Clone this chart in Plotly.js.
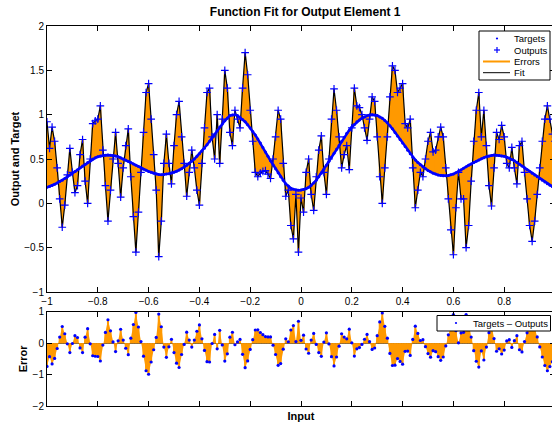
<!DOCTYPE html>
<html><head><meta charset="utf-8">
<script src="https://cdn.plot.ly/plotly-3.0.1.min.js"></script>
<style>html,body{margin:0;padding:0;overflow:hidden;background:#fff;width:552px;height:422px}</style>
</head><body><div id="chart" style="width:560px;height:422px"></div>
<script>
const inputs = [-1,-0.99,-0.98,-0.97,-0.96,-0.95,-0.94,-0.93,-0.92,-0.91,-0.9,-0.89,-0.88,-0.87,-0.86,-0.85,-0.84,-0.83,-0.82,-0.81,
-0.8,-0.79,-0.78,-0.77,-0.76,-0.75,-0.74,-0.73,-0.72,-0.71,-0.7,-0.69,-0.68,-0.67,-0.66,-0.65,-0.64,-0.63,-0.62,-0.61,
-0.6,-0.59,-0.58,-0.57,-0.56,-0.55,-0.54,-0.53,-0.52,-0.51,-0.5,-0.49,-0.48,-0.47,-0.46,-0.45,-0.44,-0.43,-0.42,-0.41,
-0.4,-0.39,-0.38,-0.37,-0.36,-0.35,-0.34,-0.33,-0.32,-0.31,-0.3,-0.29,-0.28,-0.27,-0.26,-0.25,-0.24,-0.23,-0.22,-0.21,
-0.2,-0.19,-0.18,-0.17,-0.16,-0.15,-0.14,-0.13,-0.12,-0.11,-0.1,-0.09,-0.08,-0.07,-0.06,-0.05,-0.04,-0.03,-0.02,-0.01,
0,0.01,0.02,0.03,0.04,0.05,0.06,0.07,0.08,0.09,0.1,0.11,0.12,0.13,0.14,0.15,0.16,0.17,0.18,0.19,
0.2,0.21,0.22,0.23,0.24,0.25,0.26,0.27,0.28,0.29,0.3,0.31,0.32,0.33,0.34,0.35,0.36,0.37,0.38,0.39,
0.4,0.41,0.42,0.43,0.44,0.45,0.46,0.47,0.48,0.49,0.5,0.51,0.52,0.53,0.54,0.55,0.56,0.57,0.58,0.59,
0.6,0.61,0.62,0.63,0.64,0.65,0.66,0.67,0.68,0.69,0.7,0.71,0.72,0.73,0.74,0.75,0.76,0.77,0.78,0.79,
0.8,0.81,0.82,0.83,0.84,0.85,0.86,0.87,0.88,0.89,0.9,0.91,0.92,0.93,0.94,0.95,0.96,0.97,0.98,0.99,1];

const targets = [0.18,0.19,0.2,0.215,0.23,0.245,0.26,0.28,0.3,0.32,0.34,0.36,0.38,0.4,0.42,0.44,0.46,0.48,0.5,0.513,
0.525,0.533,0.54,0.543,0.545,0.543,0.54,0.533,0.525,0.513,0.5,0.488,0.475,0.46,0.445,0.43,0.415,0.4,0.385,0.372,
0.36,0.35,0.34,0.332,0.325,0.323,0.325,0.33,0.335,0.342,0.35,0.362,0.375,0.39,0.41,0.43,0.45,0.475,0.5,0.53,
0.56,0.59,0.62,0.66,0.7,0.74,0.78,0.82,0.86,0.895,0.93,0.96,0.99,0.997,1,0.99,0.97,0.945,0.92,0.885,
0.85,0.81,0.77,0.725,0.68,0.63,0.58,0.53,0.48,0.435,0.39,0.345,0.3,0.26,0.22,0.195,0.17,0.16,0.15,0.148,
0.15,0.155,0.165,0.18,0.2,0.23,0.26,0.3,0.34,0.385,0.43,0.475,0.52,0.565,0.61,0.655,0.7,0.745,0.79,0.825,
0.86,0.89,0.92,0.94,0.96,0.975,0.99,0.997,1,0.997,0.99,0.975,0.96,0.935,0.91,0.875,0.84,0.8,0.76,0.72,
0.68,0.64,0.6,0.56,0.52,0.49,0.46,0.435,0.41,0.39,0.37,0.355,0.34,0.33,0.32,0.315,0.31,0.312,0.315,0.322,
0.33,0.345,0.36,0.377,0.395,0.412,0.43,0.445,0.46,0.475,0.49,0.503,0.515,0.525,0.535,0.54,0.545,0.543,0.54,0.535,
0.53,0.52,0.51,0.495,0.48,0.46,0.44,0.42,0.4,0.38,0.36,0.34,0.32,0.3,0.28,0.26,0.24,0.222,0.205,0.188,0.17];

const outputs = [0.92,0.62,0.86,0.7,0.4,0.05,-0.27,-0.02,0.32,0.62,0.35,0.12,0.2,0.55,0.72,0.25,0,0.5,0.9,0.93,
0.95,1.1,0.6,0.2,-0.2,0.15,0.5,0.8,0.45,0.07,0.4,0.65,0.84,0.3,-0.15,-0.55,-0.1,0.35,0.8,1.25,
1.35,0.95,0.55,0.15,-0.6,-0.2,0.45,0.78,0.45,0.22,0.65,1,1.15,0.75,0.45,0.08,0.35,0.6,0.4,0.15,
-0.02,0.45,0.85,1.25,1.3,0.75,0.5,1,0.45,0.95,1.5,1.3,0.8,0.65,1.05,0.95,0.85,1.3,1.7,1.45,
1.05,0.7,0.35,0.3,0.34,0.36,0.37,0.33,0.28,0.5,0.75,1.05,0.95,0.45,0.08,0.15,-0.25,-0.4,0.1,-0.55,
0.06,-0.1,0.35,0.5,0.1,-0.08,0.3,0.6,0.76,0.35,0.1,0.5,0.95,1.29,1.05,0.75,0.4,0.55,0.65,0.38,
0.85,1.3,1.1,1.08,1,0.85,0.71,0.95,1.2,1.15,0.75,0.3,0,0.4,0.75,1.2,1.55,1.5,1.25,1.3,
1.35,0.9,0.85,0.95,0.4,-0.05,0.15,0.35,0.3,0.5,0.7,0.8,0.58,0.6,0.75,0.86,0.75,0.4,0.05,-0.3,
-0.58,-0.05,0.35,0.05,0.05,-0.5,-0.25,0.25,0.7,1.05,1.25,0.75,1.05,0.65,0.2,-0.03,0.4,0.8,0.72,0.88,
0.75,0.45,0.4,0.63,0.4,0.22,0.65,0.7,0.35,0.05,-0.25,-0.43,-0.2,0.1,0.4,0.7,0.95,1.1,0.95,0.78,0.7];

const legendNames = ['Targets','Outputs','Errors','Fit'];
const errorLegendName = 'Targets \u2013 Outputs';
const xTickVals = [-1,-0.8,-0.6,-0.4,-0.2,0,0.2,0.4,0.6,0.8];
const yTickVals = [-1,-0.5,0,0.5,1,1.5,2];
const eTickVals = [-2,-1,0,1];

const errors = targets.map((t,i)=>+(t-outputs[i]).toFixed(3));

const ORANGE = '#ff9900', BLUE = '#0000ff';
const FONT = '"Liberation Sans", Arial, Helvetica, sans-serif';

// stems for top (target->output) and bottom (0->error)
const sx=[], sy=[], bx=[], by=[];
inputs.forEach((x,i)=>{
  sx.push(x,x,null); sy.push(targets[i],outputs[i],null);
  bx.push(x,x,null); by.push(0,errors[i],null);
});

const traces = [
  {x:inputs,y:targets,mode:'lines',line:{width:0,color:ORANGE},showlegend:false,hoverinfo:'skip',xaxis:'x',yaxis:'y'},
  {x:inputs,y:outputs,mode:'lines',line:{width:0,color:ORANGE},fill:'tonexty',fillcolor:ORANGE,showlegend:false,hoverinfo:'skip',xaxis:'x',yaxis:'y'},
  {x:sx,y:sy,mode:'lines',name:legendNames[2],line:{color:ORANGE,width:2},showlegend:false,xaxis:'x',yaxis:'y'},
  {x:inputs,y:outputs,mode:'lines',name:legendNames[3],line:{color:'#000000',width:1.2},showlegend:false,xaxis:'x',yaxis:'y'},
  {x:inputs,y:outputs,mode:'markers',name:legendNames[1],marker:{symbol:'cross-thin',size:5.5,line:{color:BLUE,width:1.2},color:BLUE},showlegend:false,xaxis:'x',yaxis:'y'},
  {x:inputs,y:targets,mode:'lines+markers',name:legendNames[0],line:{color:BLUE,width:2.5},marker:{symbol:'circle',size:3,color:BLUE},showlegend:false,xaxis:'x',yaxis:'y'},
  // bottom subplot
  {x:inputs,y:errors,mode:'lines',line:{width:0,color:ORANGE},fill:'tozeroy',fillcolor:ORANGE,showlegend:false,hoverinfo:'skip',xaxis:'x2',yaxis:'y2'},
  {x:bx,y:by,mode:'lines',line:{color:ORANGE,width:2},showlegend:false,xaxis:'x2',yaxis:'y2'},
  {x:inputs,y:errors,mode:'markers',name:errorLegendName,marker:{symbol:'circle',size:3.2,color:BLUE},showlegend:false,xaxis:'x2',yaxis:'y2'}
];

const axBase = {
  showline:true, linecolor:'#000', linewidth:1, mirror:'ticks', ticks:'inside', ticklen:5,
  tickcolor:'#000', showgrid:false, zeroline:false, tickfont:{family:FONT,size:10,color:'#000'}
};

// legend drawn in paper coordinates (plot area: x 47..555 px, y 26..406 px)
const PX = p => (p-47)/508, PY = p => (406-p)/380;
const shapes = [
  {type:'rect',xref:'paper',yref:'paper',x0:PX(479),x1:PX(550),y0:PY(80),y1:PY(31),fillcolor:'#fff',line:{color:'#000',width:1},layer:'above'},
  {type:'circle',xref:'paper',yref:'paper',x0:PX(495.9),x1:PX(498.1),y0:PY(39.6),y1:PY(37.4),fillcolor:BLUE,line:{width:0},layer:'above'},
  {type:'line',xref:'paper',yref:'paper',x0:PX(494),x1:PX(500),y0:PY(50),y1:PY(50),line:{color:BLUE,width:1.2},layer:'above'},
  {type:'line',xref:'paper',yref:'paper',x0:PX(497),x1:PX(497),y0:PY(53),y1:PY(47),line:{color:BLUE,width:1.2},layer:'above'},
  {type:'line',xref:'paper',yref:'paper',x0:PX(483),x1:PX(510),y0:PY(61.5),y1:PY(61.5),line:{color:ORANGE,width:2},layer:'above'},
  {type:'line',xref:'paper',yref:'paper',x0:PX(483),x1:PX(510),y0:PY(72.7),y1:PY(72.7),line:{color:'#000',width:1},layer:'above'},
  {type:'rect',xref:'paper',yref:'paper',x0:PX(437),x1:PX(550.5),y0:PY(331),y1:PY(315.5),fillcolor:'#fff',line:{color:'#000',width:1},layer:'above'},
  {type:'circle',xref:'paper',yref:'paper',x0:PX(454.9),x1:PX(457.1),y0:PY(324.1),y1:PY(321.9),fillcolor:BLUE,line:{width:0},layer:'above'}
];
const legAnn = (txt,px,py)=>({text:txt,xref:'paper',yref:'paper',x:PX(px),y:PY(py),xanchor:'left',yanchor:'middle',showarrow:false,
  font:{family:FONT,size:9.5,color:'#000'}});
const annotations = [
  legAnn(legendNames[0],512,38.8), legAnn(legendNames[1],512,50.2), legAnn(legendNames[2],512,61.5), legAnn(legendNames[3],512,72.7),
  legAnn(errorLegendName,471,323.2)
];

const layout = {
  width:560, height:422,
  margin:{l:47,r:5,t:26,b:16},
  paper_bgcolor:'#fff', plot_bgcolor:'#fff',
  font:{family:FONT,size:10,color:'#000'},
  showlegend:false,
  title:{text:'Function Fit for Output Element 1',font:{family:FONT,size:12,color:'#000',weight:'bold'},x:0.545,xanchor:'center',y:0.972,yanchor:'middle'},
  xaxis:Object.assign({},axBase,{domain:[0,1],range:[-1,1],tickvals:xTickVals,anchor:'y'}),
  yaxis:Object.assign({},axBase,{domain:[0.3,1],range:[-1,2],tickvals:yTickVals,anchor:'x',
    title:{text:'Output and Target',font:{family:FONT,size:11,weight:'bold'},standoff:2}}),
  xaxis2:Object.assign({},axBase,{domain:[0,1],range:[-1,1],tickvals:xTickVals,anchor:'y2',showticklabels:false,
    title:{text:'Input',font:{family:FONT,size:11,weight:'bold'},standoff:6}}),
  yaxis2:Object.assign({},axBase,{domain:[0,0.248],range:[-2,1],tickvals:eTickVals,anchor:'x2',zeroline:true,zerolinecolor:'#555',zerolinewidth:1,
    title:{text:'Error',font:{family:FONT,size:11,weight:'bold'},standoff:2}}),
  shapes:shapes,
  annotations:annotations
};

Plotly.newPlot('chart',traces,layout,{staticPlot:true,displayModeBar:false});
</script></body></html>
